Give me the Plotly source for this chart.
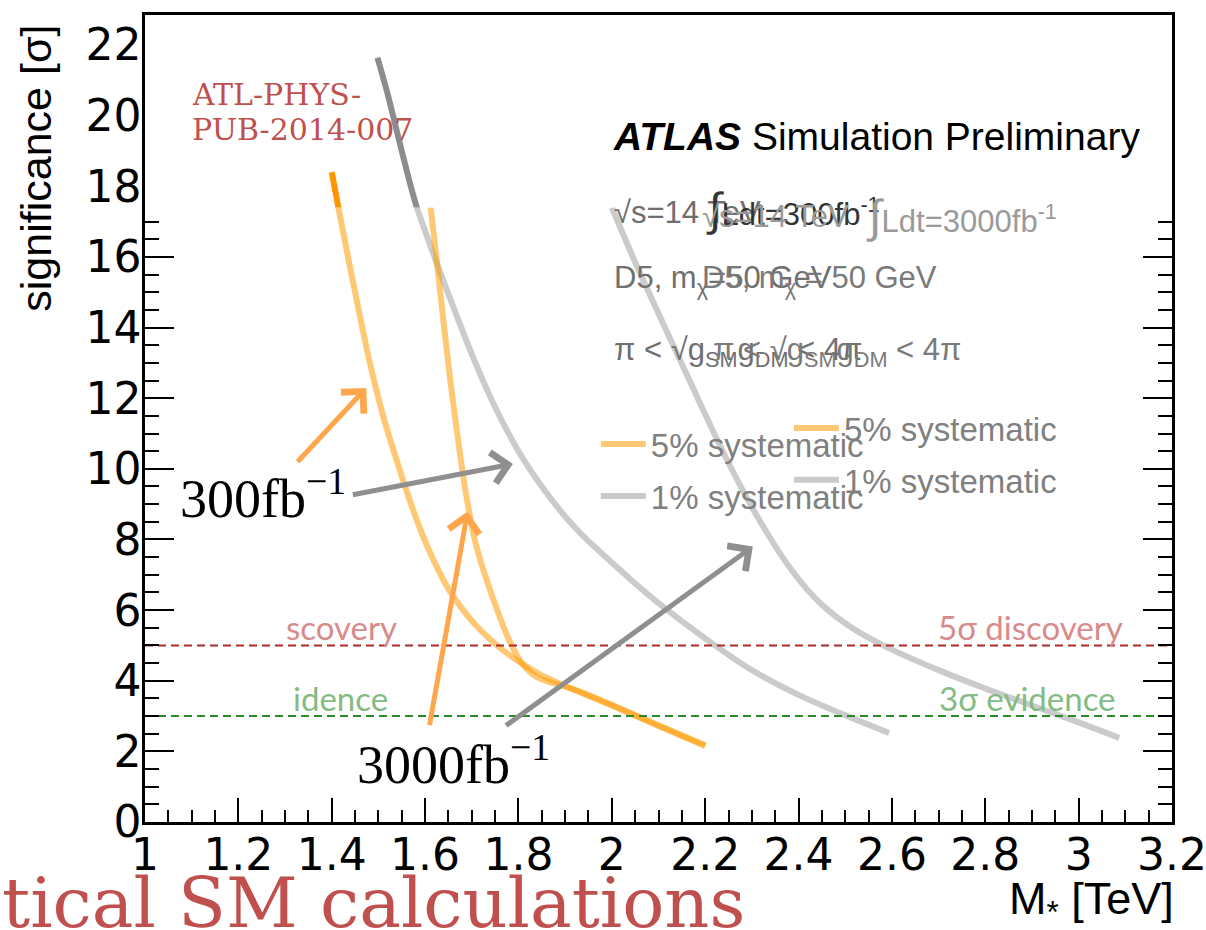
import plotly.graph_objects as go

# ---- data -----------------------------------------------------------------
# 300 fb^-1, 5% systematic
mass_300_sys5 = [1.40, 1.42, 1.45, 1.48, 1.51, 1.54, 1.57, 1.60, 1.65, 1.70, 1.75, 1.80, 1.85, 1.90, 2.00, 2.10, 2.20]
sig_300_sys5 = [18.4, 17.0, 15.0, 13.1, 11.5, 10.2, 9.0, 7.95, 6.6, 5.7, 5.05, 4.55, 4.15, 3.85, 3.3, 2.72, 2.15]

# 3000 fb^-1, 5% systematic
mass_3000_sys5 = [1.612, 1.625, 1.64, 1.655, 1.675, 1.69, 1.71, 1.745, 1.78, 1.81, 1.84, 1.87, 1.92, 2.00, 2.10, 2.20]
sig_3000_sys5 = [17.4, 15.9, 14.1, 12.4, 10.4, 9.1, 7.8, 6.35, 5.15, 4.45, 4.1, 3.95, 3.75, 3.32, 2.74, 2.17]

# 300 fb^-1, 1% systematic
mass_300_sys1 = [1.498, 1.52, 1.55, 1.58, 1.62, 1.66, 1.70, 1.75, 1.80, 1.85, 1.90, 1.95, 2.00, 2.05,
                 2.10, 2.20, 2.30, 2.40, 2.50, 2.594]
sig_300_sys1 = [21.64, 20.6, 19.0, 17.5, 16.0, 14.6, 13.25, 11.75, 10.5, 9.5, 8.65, 7.95, 7.35, 6.75,
                6.2, 5.2, 4.3, 3.6, 3.02, 2.52]

# 3000 fb^-1, 1% systematic
mass_3000_sys1 = [2.00, 2.05, 2.10, 2.17, 2.245, 2.316, 2.387, 2.45, 2.52, 2.60, 2.70, 2.80, 2.90, 3.00, 3.087]
sig_3000_sys1 = [17.4, 15.85, 14.4, 12.4, 10.3, 8.55, 7.1, 6.15, 5.45, 4.88, 4.3, 3.78, 3.3, 2.82, 2.38]

# reference significance levels
discovery_level = 5
evidence_level = 3
mass_range = [1.0, 3.2]
sig_range = [0.0, 22.85]
overlay_top = 17.4  # upper edge of the 3000 fb^-1 panel

x_tickvals = [1.0, 1.2, 1.4, 1.6, 1.8, 2.0, 2.2, 2.4, 2.6, 2.8, 3.0, 3.2]
x_ticktext = ["1", "1.2", "1.4", "1.6", "1.8", "2", "2.2", "2.4", "2.6", "2.8", "3", "3.2"]
y_tickvals = [0, 2, 4, 6, 8, 10, 12, 14, 16, 18, 20, 22]

# ---- styles ----------------------------------------------------------------
ORANGE_LIGHT = "rgba(255,153,0,0.54)"
ORANGE_DARK = "#ff9500"
GREY_LIGHT = "rgba(140,140,140,0.45)"
GREY_DARK = "#8c8c8c"
SANS = "Liberation Sans, Arial, Helvetica, sans-serif"
TICKS = "DejaVu Sans, sans-serif"
SERIF = "Liberation Serif, Times New Roman, serif"
SLAB = "DejaVu Serif, serif"
LABEL = "Lato, sans-serif"
RED_TXT = "#c0504d"
SPLINE = dict(shape="spline", smoothing=0.8)

fig = go.Figure()

# light (overlaid) curves
fig.add_trace(go.Scatter(x=mass_300_sys5, y=sig_300_sys5, mode="lines", line=dict(color=ORANGE_LIGHT, width=6, **SPLINE),
                         name="5% systematic", legend="legend", legendgroup="a"))
fig.add_trace(go.Scatter(x=mass_300_sys1, y=sig_300_sys1, mode="lines", line=dict(color=GREY_LIGHT, width=6, **SPLINE),
                         name="1% systematic", legend="legend", legendgroup="b"))
fig.add_trace(go.Scatter(x=mass_3000_sys5, y=sig_3000_sys5, mode="lines", line=dict(color=ORANGE_LIGHT, width=6, **SPLINE),
                         name="5% systematic", legend="legend2", legendgroup="c"))
fig.add_trace(go.Scatter(x=mass_3000_sys1, y=sig_3000_sys1, mode="lines", line=dict(color=GREY_LIGHT, width=6, **SPLINE),
                         name="1% systematic", legend="legend2", legendgroup="d"))

# the part of the 300 fb^-1 curves above the overlaid panel is drawn at full strength
fig.add_trace(go.Scatter(x=mass_300_sys5, y=sig_300_sys5, mode="lines", line=dict(color=ORANGE_DARK, width=6, **SPLINE),
                         xaxis="x2", yaxis="y2", showlegend=False))
fig.add_trace(go.Scatter(x=mass_300_sys1, y=sig_300_sys1, mode="lines", line=dict(color=GREY_DARK, width=6, **SPLINE),
                         xaxis="x2", yaxis="y2", showlegend=False))

# discovery / evidence thresholds
fig.add_trace(go.Scatter(x=mass_range, y=[discovery_level] * 2, mode="lines",
                         line=dict(color="#b02a2a", width=2, dash="8px,5px"), showlegend=False))
fig.add_trace(go.Scatter(x=mass_range, y=[evidence_level] * 2, mode="lines",
                         line=dict(color="#2a8a2a", width=2, dash="8px,5px"), showlegend=False))

ann = []


def note(text, x, y, size, color="black", family=SANS, xanchor="left", yanchor="middle", **kw):
    ann.append(dict(text=text, x=x, y=y, xref=kw.pop("xref", "x"), yref=kw.pop("yref", "y"),
                    showarrow=False, xanchor=xanchor, yanchor=yanchor,
                    font=dict(size=size, color=color, family=family), **kw))


# ATLAS label block
note("<b><i>ATLAS</i></b> Simulation Preliminary", 1.999, 19.4, 39)
note("√s=14 TeV", 2.0, 17.25, 31, color="#6e6e6e")
note("<span style='font-size:46px'>∫</span>Ldt=300fb<sup>-1</sup>", 2.198, 17.35, 31, color="#333333")
note("√s=14 TeV", 2.188, 17.15, 31, color="#9a9a9a")
note("<span style='font-size:46px'>∫</span>Ldt=3000fb<sup>-1</sup>", 2.54, 17.15, 31, color="#9a9a9a")
note("D5, m<sub>χ</sub>=50 GeV", 2.0, 15.35, 31, color="#707070")
note("D5, m<sub>χ</sub> = 50 GeV", 2.188, 15.35, 31, color="#7a7a7a")
note("π < √g<sub>SM</sub>g<sub>DM</sub> < 4π", 2.0, 13.3, 31, color="#707070")
note("π < √g<sub>SM</sub>g<sub>DM</sub> < 4π", 2.213, 13.3, 31, color="#7a7a7a")

# threshold labels
note("5σ discovery", 3.091, discovery_level, 33, color="#d98a8a", family=LABEL,
     xanchor="right", yanchor="bottom", yshift=-4, xshift=4)
note("3σ evidence", 3.076, evidence_level, 33, color="#84bb84", family=LABEL,
     xanchor="right", yanchor="bottom", yshift=-4, xshift=4)
note("scovery", 1.535, discovery_level, 33, color="#d98a8a", family=LABEL,
     xanchor="right", yanchor="bottom", yshift=-4, xshift=4)
note("idence", 1.52, evidence_level, 33, color="#84bb84", family=LABEL,
     xanchor="right", yanchor="bottom", yshift=-4, xshift=2)

# document reference
note("ATL-PHYS-", 1.096, 20.6, 30, color=RED_TXT, family=SLAB)
note("PUB-2014-007", 1.096, 19.6, 30, color=RED_TXT, family=SLAB)
note("tical SM calculations", -0.1412, -0.1, 70, color=RED_TXT, family=SLAB, xref="paper", yref="paper")

# luminosity call-outs
note("300fb<sup>−1</sup>", 1.07, 9.26, 54, family=SERIF)
note("3000fb<sup>−1</sup>", 1.449, 1.75, 54, family=SERIF)

# axis titles
note("significance [σ]", -0.107, 0.99, 43, family=SANS, xref="paper", yref="paper",
     xanchor="center", yanchor="top", textangle=-90)
note("M<sub>*</sub> [TeV]", 1.0, -0.098, 45, family=SANS, xref="paper", yref="paper",
     xanchor="right", yanchor="middle", xshift=4)

# arrows from the call-outs to the curves
arrows = [
    (1.324, 10.16, 1.474, 12.29, "#ffa64d"),
    (1.442, 9.26, 1.788, 10.14, "#8f8f8f"),
    (1.609, 2.70, 1.691, 8.79, "#ffa64d"),
    (1.77, 2.70, 2.302, 7.80, "#8f8f8f"),
]
for x0, y0, x1, y1, col in arrows:
    ann.append(dict(x=x1, y=y1, ax=x0, ay=y0, xref="x", yref="y", axref="x", ayref="y", text="",
                    showarrow=True, arrowhead=4, arrowsize=1.2, arrowwidth=5, arrowcolor=col, standoff=0))

fig.update_layout(annotations=ann)

axis_common = dict(showline=True, linewidth=2.5, linecolor="black", mirror="allticks", ticks="inside",
                   tickcolor="black", tickwidth=2, showgrid=False, zeroline=False, automargin=False,
                   tickfont=dict(size=44, color="black", family=TICKS))

fig.update_layout(
    width=1206, height=930,
    margin=dict(l=145, r=34, t=15, b=108),
    paper_bgcolor="white", plot_bgcolor="white",
    xaxis=dict(range=mass_range, tickmode="array", tickvals=x_tickvals, ticktext=x_ticktext, ticklen=24,
               ticklabelstandoff=-8, ticklabeloverflow="allow",
               minor=dict(ticks="inside", ticklen=12, tickwidth=2, dtick=0.05, tickcolor="black"), **axis_common),
    yaxis=dict(range=sig_range, tickmode="array", tickvals=y_tickvals, ticklen=29, ticklabelstandoff=-8,
               minor=dict(ticks="inside", ticklen=14, tickwidth=2, dtick=0.5, tickcolor="black"), **axis_common),
    xaxis2=dict(range=mass_range, domain=[0, 1], anchor="y2", visible=False, showgrid=False, zeroline=False),
    yaxis2=dict(range=[overlay_top, sig_range[1]], domain=[overlay_top / sig_range[1], 1], anchor="x2",
                visible=False, showgrid=False, zeroline=False),
    legend=dict(x=0.439, y=0.503, xanchor="left", yanchor="top", bgcolor="rgba(0,0,0,0)",
                font=dict(size=33, color="#808080", family=SANS), itemwidth=45,
                traceorder="grouped", tracegroupgap=6),
    legend2=dict(x=0.627, y=0.523, xanchor="left", yanchor="top", bgcolor="rgba(0,0,0,0)",
                 font=dict(size=33, color="#808080", family=SANS), itemwidth=45,
                 traceorder="grouped", tracegroupgap=6),
)

fig.write_html("out.html")
